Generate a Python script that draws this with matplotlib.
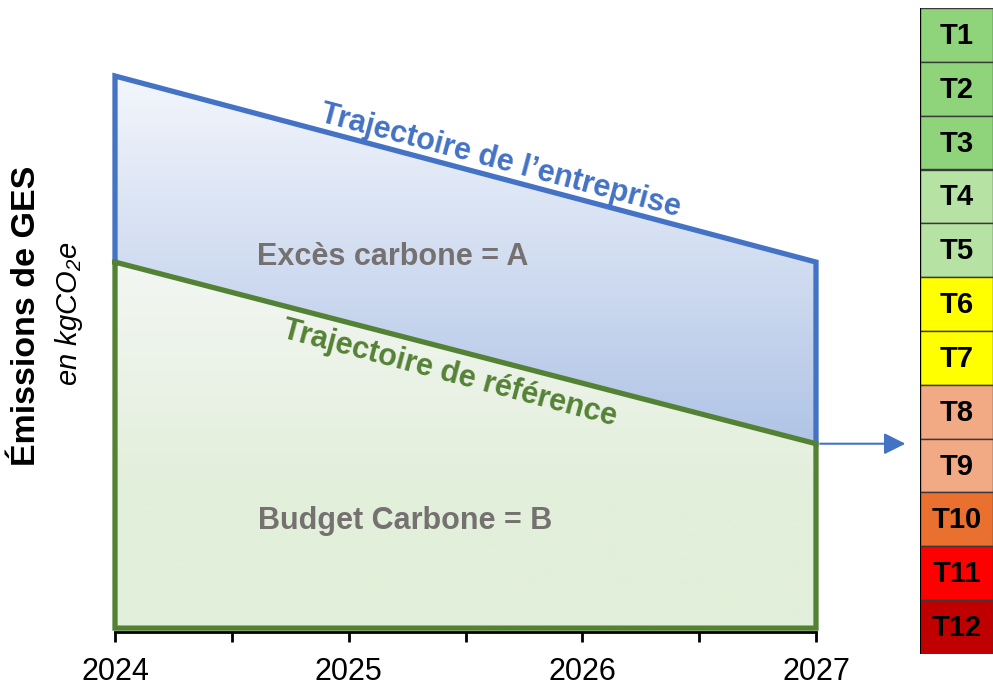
import numpy as np
import matplotlib.pyplot as plt
from matplotlib.patches import Polygon
from matplotlib.transforms import blended_transform_factory

plt.rcParams["font.family"] = ["Liberation Sans", "DejaVu Sans"]
plt.rcParams["mathtext.fontset"] = "custom"
plt.rcParams["mathtext.rm"] = "Liberation Sans:italic"
plt.rcParams["mathtext.it"] = "Liberation Sans:italic"

# donnees
annees = [2024, 2027]
traj_entreprise = [100, 66.4]
traj_reference = [66.4, 33.6]
tranches = ["T1", "T2", "T3", "T4", "T5", "T6", "T7", "T8", "T9", "T10", "T11", "T12"]
couleurs_tranches = ["#8fd47a", "#8fd47a", "#8fd47a", "#b6e2a4", "#b6e2a4",
                     "#ffff00", "#ffff00", "#f2aa84", "#f2aa84", "#e9702f",
                     "#ff0000", "#c00000"]

bleu = "#4472c4"
vert = "#548235"
gris = "#767171"

fig = plt.figure(figsize=(9.93, 6.9), dpi=100)
ax = fig.add_axes([115 / 993, 58 / 690, 701 / 993, 556 / 690])
ax.set_xlim(annees[0], annees[-1])
ax.set_ylim(-0.4, 100)

# zone excès carbone (bleu) avec dégradé
poly_bleu = Polygon([(annees[0], traj_reference[0]), (annees[0], traj_entreprise[0]),
                     (annees[1], traj_entreprise[1]), (annees[1], traj_reference[1])],
                    closed=True, facecolor="none", edgecolor="none")
ax.add_patch(poly_bleu)
grad = np.linspace(0, 1, 256).reshape(-1, 1)
c_haut = np.array([243, 246, 252]) / 255
c_bas = np.array([176, 196, 230]) / 255
img = c_haut + (c_bas - c_haut) * grad[:, :, None]
im = ax.imshow(img, extent=[annees[0], annees[1], traj_reference[1], traj_entreprise[0]],
               origin="upper", aspect="auto", zorder=1)
im.set_clip_path(poly_bleu)

# zone budget carbone (vert) avec dégradé
poly_vert = Polygon([(annees[0], 0), (annees[0], traj_reference[0]),
                     (annees[1], traj_reference[1]), (annees[1], 0)],
                    closed=True, facecolor="none", edgecolor="none")
ax.add_patch(poly_vert)
v_haut = np.array([243, 246, 243]) / 255
v_bas = np.array([226, 239, 218]) / 255
g2 = np.clip(np.linspace(0, 1.6, 256), 0, 1).reshape(-1, 1)
img2 = v_haut + (v_bas - v_haut) * g2[:, :, None]
im2 = ax.imshow(img2, extent=[annees[0], annees[1], 0, traj_reference[0]],
                origin="upper", aspect="auto", zorder=1)
im2.set_clip_path(poly_vert)

# contours
ax.plot([annees[0], annees[0], annees[1], annees[1]],
        [traj_reference[0], traj_entreprise[0], traj_entreprise[1], traj_reference[1]],
        color=bleu, lw=3.8, solid_joinstyle="miter", clip_on=False, zorder=3)
ax.plot([annees[0], annees[0], annees[1], annees[1], annees[0]],
        [traj_reference[0], 0.3, 0.3, traj_reference[1], traj_reference[0]],
        color=vert, lw=3.8, solid_joinstyle="miter", clip_on=False, zorder=4)

# textes
pente = np.degrees(np.arctan(186 / 701))
ax.text(2025.65, 84.7, "Trajectoire de l’entreprise", color=bleu, fontsize=22,
        fontweight="bold", rotation=-pente, ha="center", va="center", zorder=5)
ax.text(2025.43, 46.3, "Trajectoire de référence", color=vert, fontsize=22,
        fontweight="bold", rotation=-pente, ha="center", va="center", zorder=5)
ax.text(2025.19, 67.3, "Excès carbone = A", color=gris, fontsize=22,
        fontweight="bold", ha="center", va="center", zorder=5)
ax.text(2025.24, 19.6, "Budget Carbone = B", color=gris, fontsize=22,
        fontweight="bold", ha="center", va="center", zorder=5)

# axes
for s in ["top", "right", "left"]:
    ax.spines[s].set_visible(False)
ax.spines["bottom"].set_linewidth(2)
ax.set_yticks([])
ax.set_xticks(range(2024, 2028))
ax.set_xticklabels([str(a) for a in range(2024, 2028)], fontsize=22)
ax.set_xticks([2024.5, 2025.5, 2026.5], minor=True)
ax.tick_params(axis="x", which="both", direction="out", length=7, width=2, pad=11)

fig.text(0.027, 0.542, "Émissions de GES", rotation=90, fontsize=24.5, fontweight="bold",
         ha="center", va="center")
fig.text(0.069, 0.545, "en kgCO$_2$e", rotation=90, fontsize=21, style="italic",
         ha="center", va="center")

# colonne des tranches
axb = fig.add_axes([920 / 993, 36 / 690, 73 / 993, 646 / 690])
axb.bar([0] * len(tranches), [1] * len(tranches), bottom=np.arange(len(tranches)),
        width=1, align="edge", color=couleurs_tranches, edgecolor="#3a3a3a", lw=1)
for i, t in enumerate(tranches):
    axb.text(0.5, i + 0.52, t, ha="center", va="center", fontsize=21, fontweight="bold")
axb.set_xlim(0, 1)
axb.set_ylim(len(tranches), 0)
axb.axis("off")
axb.axvline(0, color="black", lw=1.5)

# fleche vers les tranches
trans = blended_transform_factory(axb.transAxes, ax.transData)
ax.annotate("", xy=(-0.2, traj_reference[1]), xycoords=trans,
            xytext=(annees[1], traj_reference[1]), textcoords="data",
            arrowprops=dict(arrowstyle="-|>,head_length=1.3,head_width=0.65",
                            color=bleu, lw=1.5, shrinkA=3, shrinkB=0),
            annotation_clip=False)

fig.savefig("out.png", dpi=100)
